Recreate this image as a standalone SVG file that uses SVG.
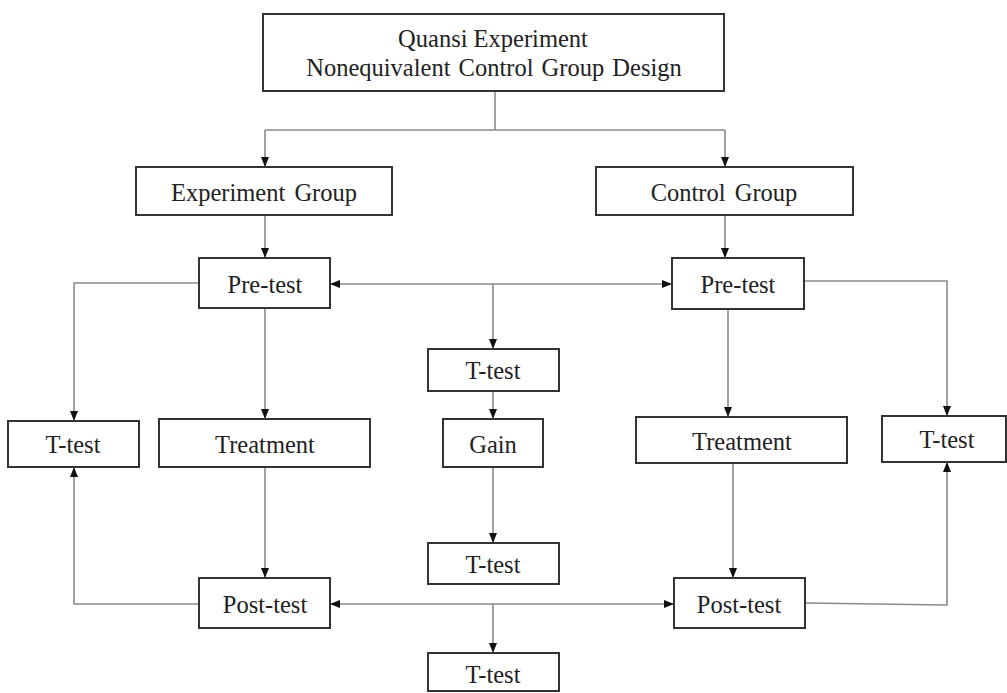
<svg xmlns="http://www.w3.org/2000/svg" width="1007" height="693" viewBox="0 0 1007 693">
<style>
.box{fill:#fff;stroke:#333;stroke-width:2}
.lbl{font-family:"Liberation Serif","Times New Roman",serif;font-size:24.5px;fill:#222;text-anchor:middle}
.con{fill:none;stroke:#8a8a8a;stroke-width:1.6}
</style>
<defs>
<marker id="ah" markerUnits="userSpaceOnUse" markerWidth="10" markerHeight="10" viewBox="0 0 10 10" refX="10" refY="5" orient="auto-start-reverse">
<path d="M0,1 L10,5 L0,9 Z" fill="#111"/>
</marker>
</defs>
<rect width="1007" height="693" fill="#fff"/>
<g id="connectors" class="con">
<path d="M495,91 V130 M265,130 H725"/>
<path d="M265,130 V167" marker-end="url(#ah)"/>
<path d="M725,130 V167" marker-end="url(#ah)"/>
<path d="M265,215 V258" marker-end="url(#ah)"/>
<path d="M725,215 V258" marker-end="url(#ah)"/>
<path d="M199,283 H74 V421" marker-end="url(#ah)"/>
<path d="M265,308 V419" marker-end="url(#ah)"/>
<path d="M330,284 H672" marker-start="url(#ah)" marker-end="url(#ah)"/>
<path d="M493,284 V349" marker-end="url(#ah)"/>
<path d="M493,391 V419" marker-end="url(#ah)"/>
<path d="M493,467 V543" marker-end="url(#ah)"/>
<path d="M804,281 H947 V416" marker-end="url(#ah)"/>
<path d="M728,309 V417" marker-end="url(#ah)"/>
<path d="M265,467 V578" marker-end="url(#ah)"/>
<path d="M733,463 V578" marker-end="url(#ah)"/>
<path d="M199,604 H74 V467" marker-end="url(#ah)"/>
<path d="M330,604 H674" marker-start="url(#ah)" marker-end="url(#ah)"/>
<path d="M493,604 V653" marker-end="url(#ah)"/>
<path d="M805,603 L947,605 V462" marker-end="url(#ah)"/>
</g>
<g id="title"><rect class="box" x="263" y="14" width="461" height="77"/>
<text class="lbl" x="493" y="47">Quansi Experiment</text>
<text class="lbl" x="494" y="76" word-spacing="2">Nonequivalent Control Group Design</text></g>
<g id="exp-group"><rect class="box" x="136" y="167" width="256" height="48"/><text class="lbl" x="264" y="201" word-spacing="3">Experiment Group</text></g>
<g id="ctl-group"><rect class="box" x="596" y="167" width="257" height="48"/><text class="lbl" x="724" y="201" word-spacing="3">Control Group</text></g>
<g id="pre-exp"><rect class="box" x="199" y="258" width="131" height="50"/><text class="lbl" x="265" y="293">Pre-test</text></g>
<g id="pre-ctl"><rect class="box" x="672" y="258" width="132" height="51"/><text class="lbl" x="738" y="293">Pre-test</text></g>
<g id="ttest-mid1"><rect class="box" x="428" y="349" width="131" height="42"/><text class="lbl" x="493" y="379">T-test</text></g>
<g id="gain"><rect class="box" x="443" y="419" width="100" height="48"/><text class="lbl" x="493" y="453">Gain</text></g>
<g id="ttest-mid2"><rect class="box" x="428" y="543" width="131" height="41"/><text class="lbl" x="493" y="573">T-test</text></g>
<g id="ttest-mid3"><rect class="box" x="428" y="653" width="131" height="38"/><text class="lbl" x="493" y="683">T-test</text></g>
<g id="ttest-left"><rect class="box" x="8" y="421" width="131" height="46"/><text class="lbl" x="73" y="453">T-test</text></g>
<g id="treat-exp"><rect class="box" x="159" y="419" width="211" height="48"/><text class="lbl" x="265" y="453">Treatment</text></g>
<g id="treat-ctl"><rect class="box" x="636" y="417" width="211" height="46"/><text class="lbl" x="742" y="450">Treatment</text></g>
<g id="ttest-right"><rect class="box" x="882" y="416" width="124" height="46"/><text class="lbl" x="947" y="448">T-test</text></g>
<g id="post-exp"><rect class="box" x="199" y="578" width="131" height="50"/><text class="lbl" x="265" y="613">Post-test</text></g>
<g id="post-ctl"><rect class="box" x="674" y="578" width="131" height="50"/><text class="lbl" x="739" y="613">Post-test</text></g>
</svg>
